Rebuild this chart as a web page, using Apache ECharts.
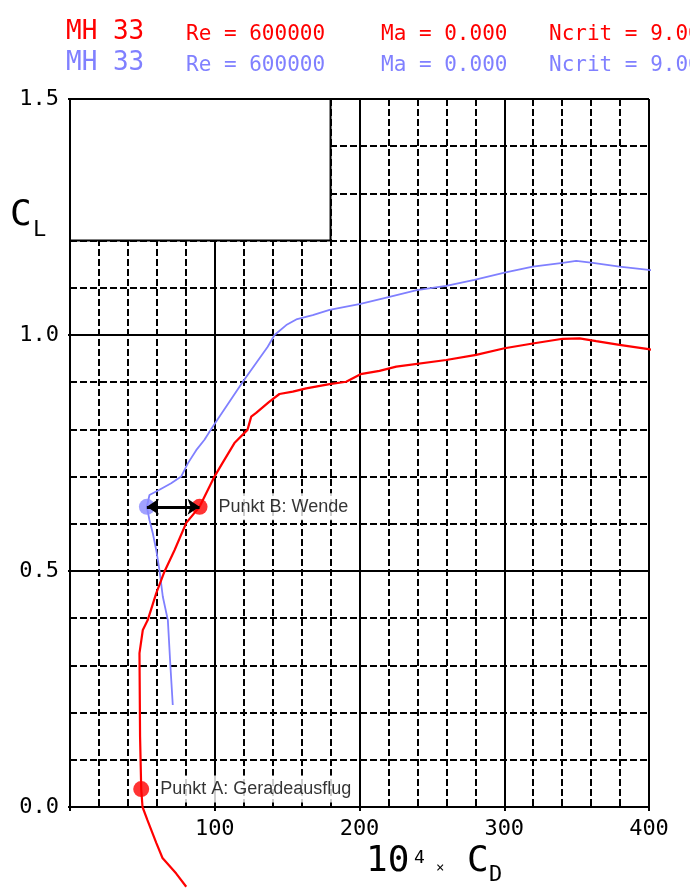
<!DOCTYPE html>
<html>
<head>
<meta charset="utf-8">
<script src="https://cdn.jsdelivr.net/npm/echarts@6/dist/echarts.min.js"></script>
<style>html,body{margin:0;padding:0;background:#fff;}#c{width:690px;height:890px;}</style>
</head>
<body>
<div id="c"></div>
<script>
// ---- data (10^4 x CD, CL) ----
var redCd = [80.3, 73.4, 63.9, 59.6, 53.5, 50.1, 49.2, 48.4, 48.0, 50.3, 53.7, 59.6, 65.3, 72.2, 80.3, 89.5, 99.8, 105.4, 113.6, 122.6, 125.2, 128.6, 137.8, 144.7, 153.9, 163.2, 179.3, 190.8, 200.7, 213.8, 225.4, 259.9, 280.6, 300.2, 319.7, 340.4, 352.0, 363.5, 379.6, 399.7, 425.7];
var redCl = [-0.169, -0.141, -0.108, -0.076, -0.028, 0.0, 0.038, 0.15, 0.326, 0.375, 0.396, 0.453, 0.499, 0.544, 0.602, 0.636, 0.700, 0.729, 0.771, 0.799, 0.827, 0.835, 0.859, 0.875, 0.880, 0.887, 0.896, 0.901, 0.917, 0.924, 0.933, 0.947, 0.958, 0.972, 0.982, 0.992, 0.993, 0.987, 0.979, 0.970, 0.955];
var blueCd = [71.0, 69.4, 67.6, 64.1, 61.8, 59.6, 57.2, 54.9, 53.1, 54.9, 61.8, 69.9, 76.8, 81.4, 87.2, 92.9, 98.7, 119.4, 136.6, 141.3, 149.4, 156.3, 167.7, 179.3, 200.7, 220.7, 239.6, 259.9, 279.4, 300.2, 319.7, 340.4, 349.7, 361.2, 379.6, 399.7, 426.8];
var blueCl = [0.216, 0.297, 0.396, 0.446, 0.502, 0.544, 0.580, 0.608, 0.636, 0.661, 0.672, 0.686, 0.700, 0.728, 0.756, 0.778, 0.806, 0.901, 0.975, 1.0, 1.021, 1.033, 1.042, 1.053, 1.066, 1.081, 1.095, 1.104, 1.117, 1.132, 1.145, 1.153, 1.157, 1.153, 1.145, 1.138, 1.129];
var markerNames = ['Punkt A: Geradeausflug', 'Punkt B: Wende'];
var markerCd = [49.2, 89.5];
var markerCl = [0.038, 0.636];
var blueMarkerCd = [53.1];
var blueMarkerCl = [0.636];
var legendBox = [[0, 1.2], [180, 1.5]];
var xTicks = [0, 100, 200, 300, 400];
var yTicks = [0.0, 0.5, 1.0, 1.5];
var headerParts = ['MH 33', 'Re = 600000', 'Ma = 0.000', 'Ncrit = 9.00'];

function pairs(xs, ys) { return xs.map(function (x, i) { return [x, ys[i]]; }); }

var mono = 'DejaVu Sans Mono';
var RED = '#ff0000', BLUE = '#8080ff';

var chart = echarts.init(document.getElementById('c'), null, {renderer: 'canvas'});

function headerRow(color, yBig, ySmall) {
  var xs = [66, 186, 381, 549];
  return headerParts.map(function (t, i) {
    return {
      type: 'text', left: xs[i], top: (i === 0 ? yBig : ySmall),
      style: {text: t, fill: color, font: (i === 0 ? '26px ' : '21px ') + mono},
      z: 10
    };
  });
}

var graphics = [].concat(
  headerRow(RED, 19, 24),
  headerRow(BLUE, 50, 55),
  [
    {type: 'text', left: 10, top: 198, style: {text: 'C', fill: '#000', font: '36px ' + mono}},
    {type: 'text', left: 33, top: 219, style: {text: 'L', fill: '#000', font: '22px ' + mono}},
    {type: 'text', left: 366, top: 844, style: {text: '10', fill: '#000', font: '36px ' + mono}},
    {type: 'text', left: 414, top: 849, style: {text: '4', fill: '#000', font: '18px ' + mono}},
    {type: 'text', left: 436, top: 861, style: {text: '×', fill: '#000', font: '14px ' + mono}},
    {type: 'text', left: 467, top: 844, style: {text: 'C', fill: '#000', font: '36px ' + mono}},
    {type: 'text', left: 489, top: 864, style: {text: 'D', fill: '#000', font: '22px ' + mono}}
  ]
);

var option = {
  animation: false,
  backgroundColor: '#fff',
  grid: {left: 70, top: 99, width: 579, height: 708, containLabel: false},
  xAxis: {
    type: 'value', min: xTicks[0], max: xTicks[xTicks.length - 1], interval: 100,
    axisLine: {show: true, onZero: false, lineStyle: {color: '#000', width: 2}},
    axisTick: {show: true, length: 4, lineStyle: {color: '#000', width: 2}},
    axisLabel: {
      margin: 11, color: '#000', fontFamily: mono, fontSize: 22,
      formatter: function (v) { return v === 0 ? '' : String(v); }
    },
    splitLine: {show: true, lineStyle: {color: '#000', width: 2}},
    minorTick: {show: false, splitNumber: 5},
    minorSplitLine: {show: true, lineStyle: {color: '#000', width: 2, type: [7, 3]}}
  },
  yAxis: {
    type: 'value', min: yTicks[0], max: yTicks[yTicks.length - 1], interval: 0.5,
    axisLine: {show: true, onZero: false, lineStyle: {color: '#000', width: 2}},
    axisTick: {show: true, length: 2, lineStyle: {color: '#000', width: 2}},
    axisLabel: {
      margin: 11, color: '#000', fontFamily: mono, fontSize: 22,
      formatter: function (v) { return v.toFixed(1); }
    },
    splitLine: {show: true, lineStyle: {color: '#000', width: 2}},
    minorTick: {show: false, splitNumber: 5},
    minorSplitLine: {show: true, lineStyle: {color: '#000', width: 2, type: [7, 3]}}
  },
  series: [
    {
      type: 'line', name: 'box', data: [], silent: true, z: 1,
      markArea: {
        silent: true,
        itemStyle: {color: '#fff', borderColor: '#000', borderWidth: 2},
        data: [[{coord: legendBox[0]}, {coord: legendBox[1]}]]
      }
    },
    {
      type: 'line', name: 'blue', data: pairs(blueCd, blueCl), showSymbol: false, clip: false,
      lineStyle: {color: BLUE, width: 1.8}, z: 3, silent: true
    },
    {
      type: 'line', name: 'red', data: pairs(redCd, redCl), showSymbol: false, clip: false,
      lineStyle: {color: RED, width: 2.2}, z: 3, silent: true
    },
    {
      type: 'scatter', name: 'blueMarker', data: pairs(blueMarkerCd, blueMarkerCl),
      symbolSize: 16, itemStyle: {color: '#8a8aff'}, z: 4, silent: true
    },
    {
      type: 'scatter', name: 'markers',
      data: markerNames.map(function (n, i) { return {name: n, value: [markerCd[i], markerCl[i]]}; }),
      symbolSize: 16, itemStyle: {color: RED}, z: 4, silent: true,
      label: {show: true, position: 'right', distance: 9, formatter: '{b}', color: '#000',
        fontFamily: 'Liberation Sans', fontSize: 18, backgroundColor: '#fff', padding: [5, 1, 4, 2]}
    },
    {
      type: 'line', name: 'arrow', data: [], z: 5, silent: true,
      markLine: {
        silent: true, symbol: ['arrow', 'arrow'], symbolSize: 12,
        label: {show: false},
        lineStyle: {color: '#000', width: 3, type: 'solid'},
        data: [[{coord: [blueMarkerCd[0], blueMarkerCl[0]]}, {coord: [markerCd[1], markerCl[1]]}]]
      }
    }
  ],
  graphic: graphics
};
chart.setOption(option);
</script>
</body>
</html>
